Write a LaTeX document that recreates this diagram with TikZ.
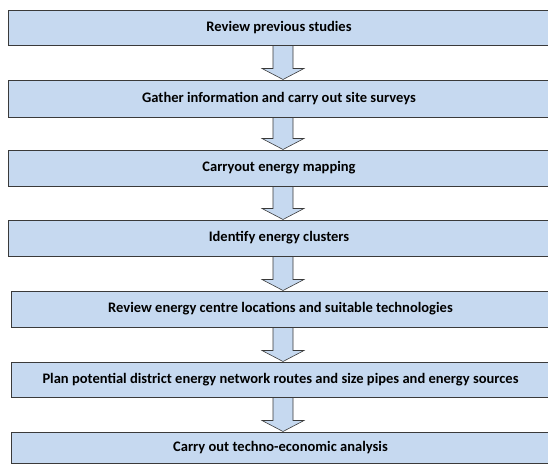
\documentclass[tikz,border=0pt]{standalone}
\usepackage{fontspec}
\setmainfont{Carlito}
\usetikzlibrary{calc}
\definecolor{boxfill}{HTML}{C6D9F0}
\definecolor{boxline}{HTML}{3A3A3A}
\newlength\mylongw
\tikzset{
  stage/.style={draw=boxline, line width=1pt, fill=boxfill, rectangle, inner sep=0pt,
    font=\fontsize{\stagefs pt}{\stagefs pt}\selectfont\bfseries},
  blockarrow/.style={draw=boxline, line width=0.6pt, fill=boxfill, line join=miter},
}
\begin{document}
\settowidth{\mylongw}{\fontsize{10pt}{12pt}\selectfont\bfseries Plan potential district energy network routes and size pipes and energy sources}
\pgfmathsetmacro\stagefs{10*476/\mylongw}
\begin{tikzpicture}[x=1pt,y=-1pt]
\useasboundingbox (0,0) rectangle (548,463);
\clip (0,0) rectangle (548,463);
\node[stage, minimum width=542pt, minimum height=35pt] (b1) at (279,27.5) {Review previous studies};
\node[stage, minimum width=542pt, minimum height=37pt] (b2) at (279,98.5) {Gather information and carry out site surveys};
\node[stage, minimum width=542pt, minimum height=36pt] (b3) at (279,168) {Carryout energy mapping};
\node[stage, minimum width=542pt, minimum height=36pt] (b4) at (279,238) {Identify energy clusters};
\node[stage, minimum width=539pt, minimum height=36pt] (b5) at (280.5,309) {Review energy centre locations and suitable technologies};
\node[stage, minimum width=539pt, minimum height=35pt] (b6) at (280.5,379.5) {Plan potential district energy network routes and size pipes and energy sources};
\node[stage, minimum width=539pt, minimum height=31pt] (b7) at (280.5,447.5) {Carry out techno-economic analysis};
\foreach \a/\b in {b1/b2,b2/b3,b3/b4,b4/b5,b5/b6,b6/b7}{
  \path let \p1=(\a.south), \p2=(\b.north) in
    [blockarrow] (273pt,\y1) -- (273pt,\y2+11pt) -- (262pt,\y2+11pt) -- (283pt,\y2)
    -- (304pt,\y2+11pt) -- (293pt,\y2+11pt) -- (293pt,\y1) -- cycle;
}
\end{tikzpicture}
\end{document}
